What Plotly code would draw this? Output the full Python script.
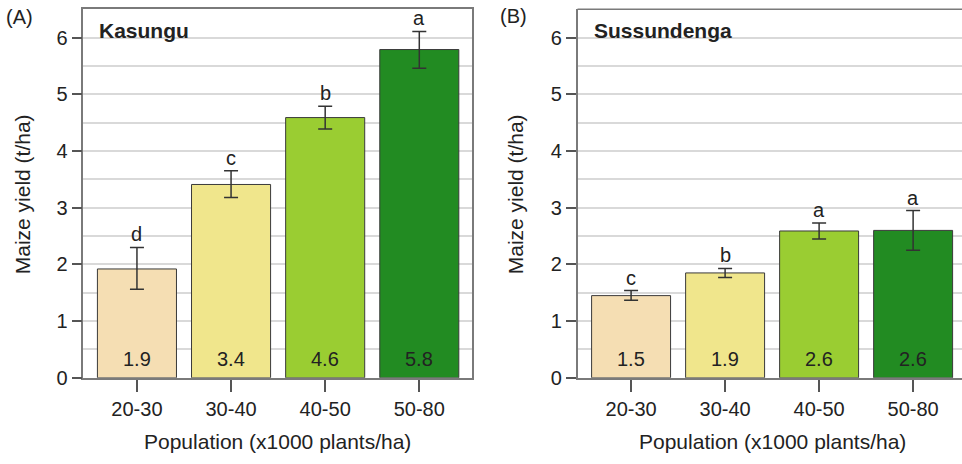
import plotly.graph_objects as go

categories = ["20-30", "30-40", "40-50", "50-80"]
bar_colors = ["#F5DEB3", "#F0E68C", "#9ACD32", "#228B22"]

kasungu_yield = [1.92, 3.41, 4.59, 5.79]
kasungu_upper = [2.30, 3.65, 4.79, 6.11]
kasungu_lower = [1.56, 3.18, 4.39, 5.46]
kasungu_labels = ["1.9", "3.4", "4.6", "5.8"]
kasungu_letters = ["d", "c", "b", "a"]

sus_yield = [1.45, 1.85, 2.59, 2.60]
sus_upper = [1.54, 1.93, 2.73, 2.95]
sus_lower = [1.37, 1.77, 2.45, 2.25]
sus_labels = ["1.5", "1.9", "2.6", "2.6"]
sus_letters = ["c", "b", "a", "a"]

y_ticks = [0, 1, 2, 3, 4, 5, 6]

W, H = 962, 464
FONT = "Liberation Sans, Arial, sans-serif"
TXT = "#222222"
LINE = "#7a7a7a"

fig = go.Figure()

panels = [
    ("x", "y", kasungu_yield, kasungu_upper, kasungu_lower, kasungu_labels, kasungu_letters),
    ("x2", "y2", sus_yield, sus_upper, sus_lower, sus_labels, sus_letters),
]

annotations = []
for xa, ya, vals, up, lo, labs, lets in panels:
    fig.add_trace(go.Bar(
        x=categories, y=vals, xaxis=xa, yaxis=ya,
        width=0.84,
        marker=dict(color=bar_colors, line=dict(color="#3a3a3a", width=1)),
        error_y=dict(type="data", symmetric=False,
                     array=[u - v for u, v in zip(up, vals)],
                     arrayminus=[v - l for v, l in zip(vals, lo)],
                     color="#333333", thickness=1.5, width=7),
        showlegend=False, hoverinfo="skip",
    ))
    for c, v, u, lab, let in zip(categories, vals, up, labs, lets):
        annotations.append(dict(x=c, y=u, xref=xa, yref=ya, text=let, showarrow=False,
                                yanchor="bottom", font=dict(size=20, color=TXT, family=FONT)))
        annotations.append(dict(x=c, y=0, xref=xa, yref=ya, text=lab, showarrow=False,
                                yanchor="middle", yshift=19,
                                font=dict(size=20, color=TXT, family=FONT)))

ydom = [1 - 387 / H, 1 - 9.5 / H]

axis_common = dict(showline=True, linecolor=LINE, linewidth=1.5, ticks="outside",
                   tickcolor="#555555", tickwidth=1.5,
                   tickfont=dict(size=20, color=TXT, family=FONT))

fig.update_layout(
    width=W, height=H, margin=dict(l=0, r=0, t=0, b=0),
    paper_bgcolor="white", plot_bgcolor="white",
    bargap=0.16,
    xaxis=dict(domain=[83.3 / W, 472 / W], range=[-0.57, 3.56], type="category",
               mirror=True, ticklen=12, anchor="y", **axis_common),
    yaxis=dict(domain=ydom, range=[0, 6.5], tickvals=y_ticks, mirror=True, ticklen=10,
               showgrid=True, gridcolor="#d9d9d9", gridwidth=1.5, zeroline=False,
               minor=dict(dtick=0.5, showgrid=True, gridcolor="#d9d9d9", gridwidth=1.5, ticks=""),
               anchor="x", **axis_common),
    xaxis2=dict(domain=[577.5 / W, 1.0], range=[-0.57, 3.52], type="category",
                mirror=False, ticklen=12, anchor="y2", **axis_common),
    yaxis2=dict(domain=ydom, range=[0, 6.5], tickvals=y_ticks, mirror=False, ticklen=10,
                showgrid=True, gridcolor="#d9d9d9", gridwidth=1.5, zeroline=False,
                minor=dict(dtick=0.5, showgrid=True, gridcolor="#d9d9d9", gridwidth=1.5, ticks=""),
                anchor="x2", **axis_common),
)

# top frame line for the right panel (the reference is cropped on the right)
fig.add_shape(type="line", xref="x2 domain", yref="y2 domain", x0=0, x1=1, y0=1, y1=1,
              line=dict(color=LINE, width=1.5))

annotations.append(dict(x=14 / 388.7, y=1 - 22 / 377.5, xref="x domain", yref="y domain",
                        text="<b>Kasungu</b>", showarrow=False, xanchor="left", yanchor="middle",
                        font=dict(size=21, color=TXT, family=FONT)))
annotations.append(dict(x=14 / 384.5, y=1 - 22 / 377.5, xref="x2 domain", yref="y2 domain",
                        text="<b>Sussundenga</b>", showarrow=False, xanchor="left", yanchor="middle",
                        font=dict(size=21, color=TXT, family=FONT)))
annotations.append(dict(x=4 / W, y=1 - 17 / H, xref="paper", yref="paper", text="(A)",
                        showarrow=False, xanchor="left", yanchor="middle",
                        font=dict(size=20, color=TXT, family=FONT)))
annotations.append(dict(x=498 / W, y=1 - 16 / H, xref="paper", yref="paper", text="(B)",
                        showarrow=False, xanchor="left", yanchor="middle",
                        font=dict(size=20, color=TXT, family=FONT)))
for xc in [22, 515]:
    annotations.append(dict(x=xc / W, y=1 - 199 / H, xref="paper", yref="paper",
                            text="Maize yield (t/ha)", textangle=-90, showarrow=False,
                            xanchor="center", yanchor="middle",
                            font=dict(size=21, color=TXT, family=FONT)))
for xc in [277.6, 772.5]:
    annotations.append(dict(x=xc / W, y=1 - 452 / H, xref="paper", yref="paper",
                            text="Population (x1000 plants/ha)", showarrow=False,
                            xanchor="center", yanchor="middle",
                            font=dict(size=21, color=TXT, family=FONT)))

fig.update_layout(annotations=annotations)

fig.write_html("out.html")
